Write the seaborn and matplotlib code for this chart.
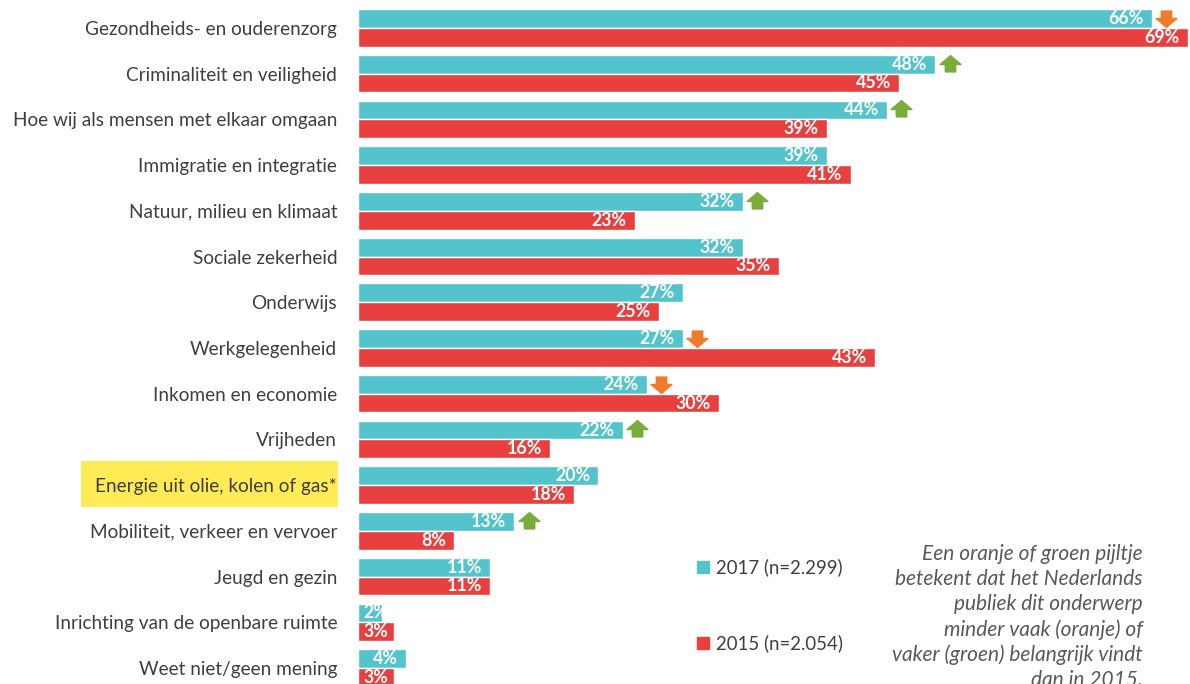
import numpy as np
import pandas as pd
import matplotlib.pyplot as plt
import seaborn as sns
from matplotlib.path import Path
from matplotlib.patches import Rectangle
from matplotlib.lines import Line2D

# data
topics = ["Gezondheids- en ouderenzorg", "Criminaliteit en veiligheid",
          "Hoe wij als mensen met elkaar omgaan", "Immigratie en integratie",
          "Natuur, milieu en klimaat", "Sociale zekerheid", "Onderwijs",
          "Werkgelegenheid", "Inkomen en economie", "Vrijheden",
          "Energie uit olie, kolen of gas*", "Mobiliteit, verkeer en vervoer",
          "Jeugd en gezin", "Inrichting van de openbare ruimte",
          "Weet niet/geen mening"]
vals_2017 = [66, 48, 44, 39, 32, 32, 27, 27, 24, 22, 20, 13, 11, 2, 4]
vals_2015 = [69, 45, 39, 41, 23, 35, 25, 43, 30, 16, 18, 8, 11, 3, 3]
# +1 = vaker (groen), -1 = minder vaak (oranje), 0 = geen pijl
change = [-1, 1, 1, 0, 1, 0, 0, -1, -1, 1, 0, 1, 0, 0, 0]
series = ["2017 (n=2.299)", "2015 (n=2.054)"]

cyan = "#53C4CB"
red = "#E8403F"
orange = "#F07B2C"
green = "#79AD3B"
grey = "#3F3F3F"

df = pd.DataFrame({
    "topic": topics * 2,
    "pct": vals_2017 + vals_2015,
    "year": [series[0]] * len(topics) + [series[1]] * len(topics),
})

sns.set_style("white")
plt.rcParams["font.family"] = ["Lato", "DejaVu Sans"]

fig = plt.figure(figsize=(11.9, 6.84), dpi=100)
ax = fig.add_axes([358 / 1190, 0, 1 - 358 / 1190, 1])

sns.barplot(data=df, y="topic", x="pct", hue="year", orient="h",
            palette=[cyan, red], saturation=1, width=0.82, edgecolor="white",
            linewidth=1, legend=False, ax=ax)

ax.set_xlim(0, 69.2)
ax.set_ylim(len(topics) - 1 + 0.35, -0.61)
ax.set_xlabel("")
ax.set_ylabel("")
ax.set_xticks([])
sns.despine(ax=ax, left=True, bottom=True)
ax.tick_params(axis="y", length=0, pad=15, labelsize=13.7, labelcolor=grey)

# value labels inside bar ends (short bars: keep the label readable)
for cont in ax.containers:
    for bar, v in zip(cont, cont.datavalues):
        yc = bar.get_y() + bar.get_height() / 2
        ax.annotate(f"{v:.0f}%", xy=(max(v, 3.2), yc), xytext=(-6, 0),
                    textcoords="offset points", ha="right", va="center",
                    color="white", fontsize=12.8, fontweight="bold")

# arrows
up = Path([(-0.35, -0.5), (0.35, -0.5), (0.35, 0.0), (0.7, 0.0), (0.0, 0.6),
           (-0.7, 0.0), (-0.35, 0.0), (-0.35, -0.5)])
down = Path([(x, -y) for x, y in up.vertices])
for i, c in enumerate(change):
    if c == 0:
        continue
    ax.plot(vals_2017[i] + 1.2, i - 0.22, marker=up if c > 0 else down,
            markersize=15, color=green if c > 0 else orange, linestyle="none")

# highlight behind energy label
fig.patches.append(Rectangle((81 / 1190, 1 - 507 / 684), 257 / 1190, 46 / 684,
                             transform=fig.transFigure, facecolor="#FFEB55",
                             edgecolor="none", zorder=-1))

handles = [Line2D([], [], marker="s", color=c, linestyle="none", markersize=8)
           for c in (cyan, red)]
fig.legend(handles, series, loc="upper left", bbox_to_anchor=(677 / 1190, 1 - 542 / 684),
           frameon=False, fontsize=13.4, labelcolor=grey, labelspacing=3.1,
           handletextpad=0.2, handlelength=1.0)

note = ("Een oranje of groen pijltje\nbetekent dat het Nederlands\npubliek dit onderwerp\n"
        "minder vaak (oranje) of\nvaker (groen) belangrijk vindt\ndan in 2015.")
fig.text(1143 / 1190, 1 - 544 / 684, note, ha="right", va="top", fontsize=15,
         style="italic", color="#595959", linespacing=1.31)

fig.savefig("out.png", dpi=100)
